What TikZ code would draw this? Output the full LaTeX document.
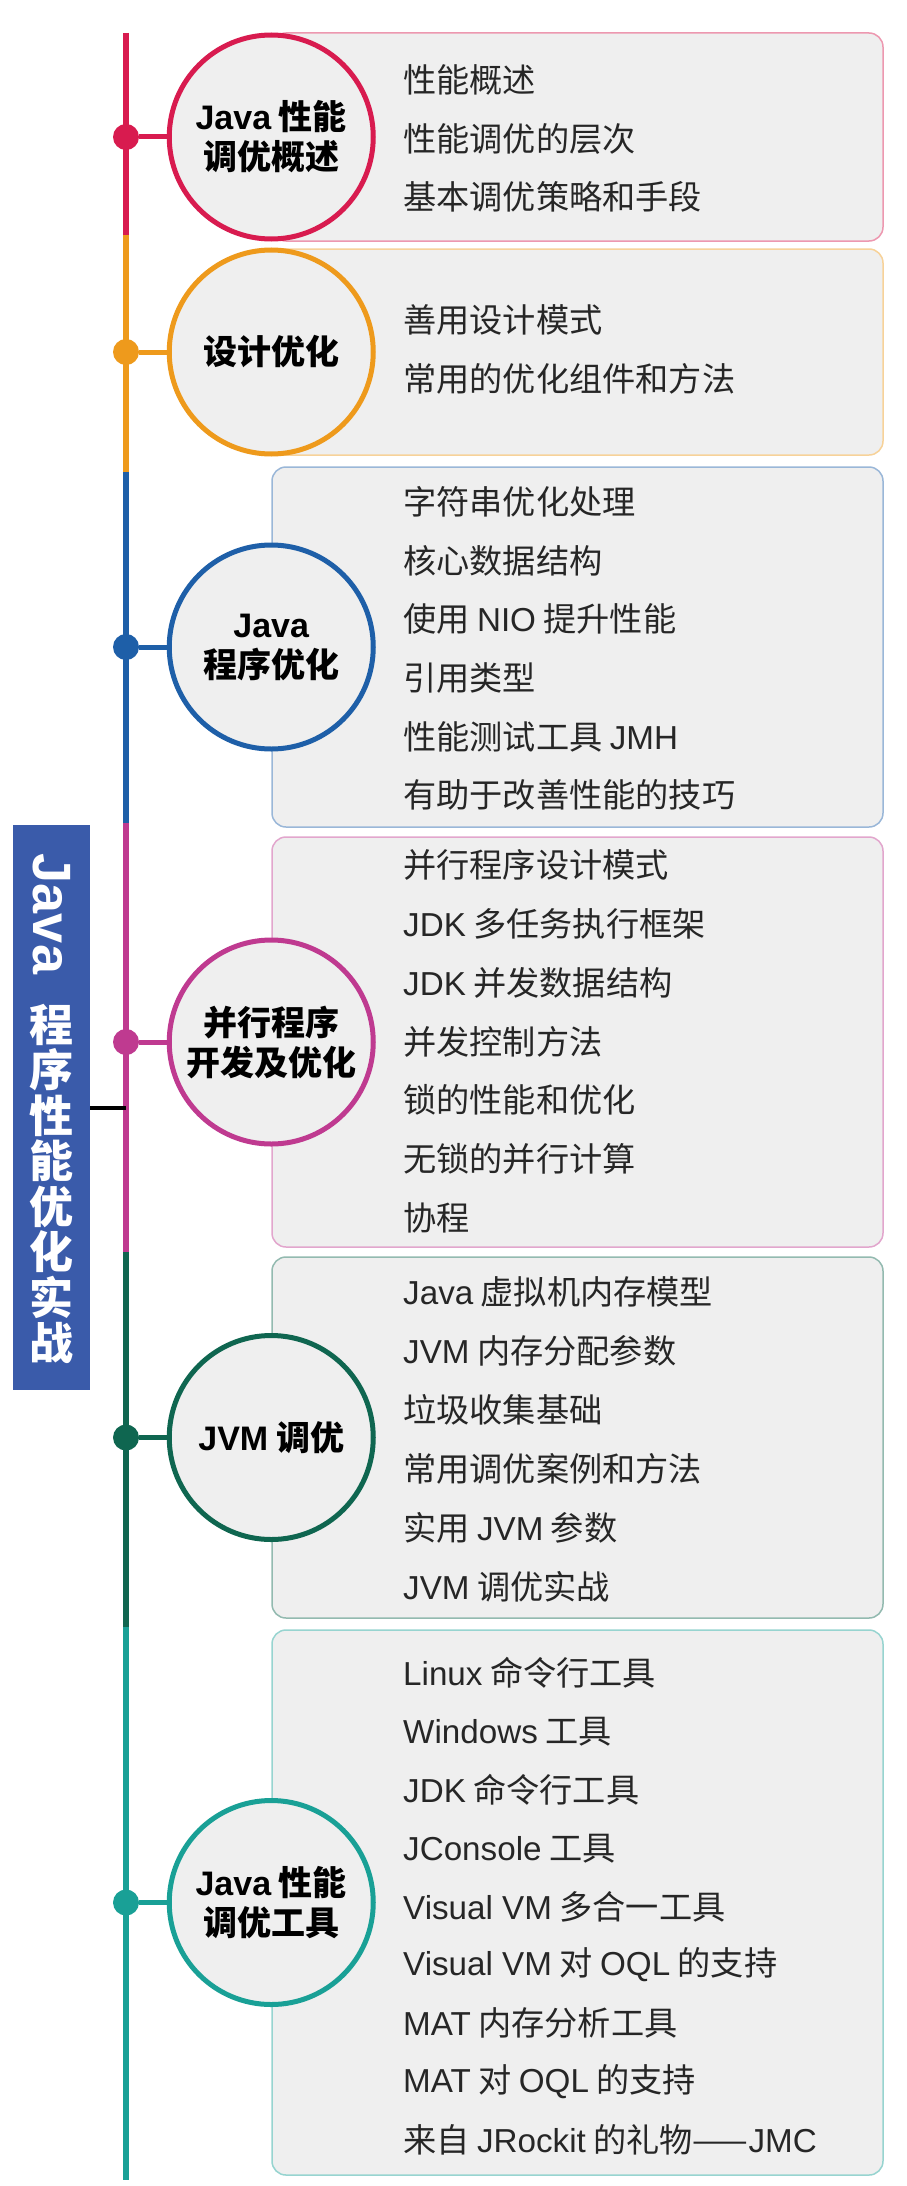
\documentclass[tikz,border=0pt]{standalone}
\usepackage{fontspec}
\setmainfont{Noto Sans CJK SC}
\newfontfamily\en{Liberation Sans}
\usetikzlibrary{positioning}
\definecolor{LineRed}{HTML}{D81B4F}
\definecolor{LineOrange}{HTML}{EE9A1C}
\definecolor{LineBlue}{HTML}{1E5FA8}
\definecolor{LineMagenta}{HTML}{BF3A90}
\definecolor{LineGreen}{HTML}{0F6650}
\definecolor{LineTeal}{HTML}{19A096}
\definecolor{TitleBlue}{HTML}{3A5BAA}
\definecolor{BoxGray}{HTML}{EFEFEF}
\definecolor{ItemGray}{HTML}{262626}

\begin{document}
\begin{tikzpicture}[x=1pt, y=-1pt,
  box/.style={draw=#1!45, fill=BoxGray, line width=1.5pt, rounded corners=14pt, minimum width=611pt, inner sep=0pt},
  topic/.style={circle, draw=#1, fill=BoxGray, line width=5pt, minimum size=204pt, inner sep=0pt, align=center, font=\fontsize{34}{40}\selectfont\bfseries},
  dot/.style={circle, fill=#1, minimum size=26pt, inner sep=0pt},
  branch/.style={#1, line width=5pt},
  spine/.style={#1, line width=5.5pt},
  item/.style={anchor=west, inner sep=0pt, font=\fontsize{33.2}{38}\selectfont, text=ItemGray},
]
\fill[white] (0,0) rectangle (906,2186);

\node[box=LineRed,     minimum height=208pt] (b1) at (577.5,137)    {};
\node[box=LineOrange,  minimum height=206pt] (b2) at (577.5,352)    {};
\node[box=LineBlue,    minimum height=360pt] (b3) at (577.5,647)    {};
\node[box=LineMagenta, minimum height=410pt] (b4) at (577.5,1042)   {};
\node[box=LineGreen,   minimum height=361pt] (b5) at (577.5,1437.5) {};
\node[box=LineTeal,    minimum height=545pt] (b6) at (577.5,1902.5) {};

\node[topic=LineRed]     (c1) at (b1.west) {{\en Java} 性能\\调优概述};
\node[topic=LineOrange]  (c2) at (b2.west) {设计优化};
\node[topic=LineBlue]    (c3) at (b3.west) {{\en Java}\\程序优化};
\node[topic=LineMagenta] (c4) at (b4.west) {并行程序\\开发及优化};
\node[topic=LineGreen]   (c5) at (b5.west) {{\en JVM} 调优};
\node[topic=LineTeal]    (c6) at (b6.west) {{\en Java} 性能\\调优工具};

\coordinate (s0) at (126,33);
\coordinate (s1) at (126,235);
\coordinate (s2) at (126,472);
\coordinate (s3) at (126,823);
\coordinate (s4) at (126,1252);
\coordinate (s5) at (126,1627);
\coordinate (s6) at (126,2180);
\draw[spine=LineRed]     (s0) -- (s1);
\draw[spine=LineOrange]  (s1) -- (s2);
\draw[spine=LineBlue]    (s2) -- (s3);
\draw[spine=LineMagenta] (s3) -- (s4);
\draw[spine=LineGreen]   (s4) -- (s5);
\draw[spine=LineTeal]    (s5) -- (s6);

\node[dot=LineRed]     (d1) at (s0 |- c1) {};
\node[dot=LineOrange]  (d2) at (s0 |- c2) {};
\node[dot=LineBlue]    (d3) at (s0 |- c3) {};
\node[dot=LineMagenta] (d4) at (s0 |- c4) {};
\node[dot=LineGreen]   (d5) at (s0 |- c5) {};
\node[dot=LineTeal]    (d6) at (s0 |- c6) {};
\draw[branch=LineRed]     (d1) -- (c1);
\draw[branch=LineOrange]  (d2) -- (c2);
\draw[branch=LineBlue]    (d3) -- (c3);
\draw[branch=LineMagenta] (d4) -- (c4);
\draw[branch=LineGreen]   (d5) -- (c5);
\draw[branch=LineTeal]    (d6) -- (c6);

\foreach \t [count=\i] in {性能概述, 性能调优的层次, 基本调优策略和手段}
  \node[item] (t1-\i) at (403,{80+58.6*(\i-1)}) {\t};
\foreach \t [count=\i] in {善用设计模式, 常用的优化组件和方法}
  \node[item] (t2-\i) at (403,{320+58.6*(\i-1)}) {\t};
\foreach \t [count=\i] in {字符串优化处理, 核心数据结构, 使用 {\en NIO} 提升性能, 引用类型, 性能测试工具 {\en JMH}, 有助于改善性能的技巧}
  \node[item] (t3-\i) at (403,{502+58.6*(\i-1)}) {\t};
\foreach \t [count=\i] in {并行程序设计模式, {\en JDK} 多任务执行框架, {\en JDK} 并发数据结构, 并发控制方法, 锁的性能和优化, 无锁的并行计算, 协程}
  \node[item] (t4-\i) at (403,{865+58.8*(\i-1)}) {\t};
\foreach \t [count=\i] in {{\en Java} 虚拟机内存模型, {\en JVM} 内存分配参数, 垃圾收集基础, 常用调优案例和方法, 实用 {\en JVM} 参数, {\en JVM} 调优实战}
  \node[item] (t5-\i) at (403,{1292+59*(\i-1)}) {\t};
\foreach \t [count=\i] in {{\en Linux} 命令行工具, {\en Windows} 工具, {\en JDK} 命令行工具, {\en JConsole} 工具, {\en Visual VM} 多合一工具, {\en Visual VM} 对 {\en OQL} 的支持, {\en MAT} 内存分析工具, {\en MAT} 对 {\en OQL} 的支持, 来自 {\en JRockit} 的礼物——{\en JMC}}
  \node[item] (t6-\i) at (403,{1673+58.4*(\i-1)}) {\t};

\node[fill=TitleBlue, minimum width=77pt, minimum height=565pt, inner sep=0pt] (title) at (51.5,1107.5) {};
\node[rotate=-90, text=white, inner sep=0pt, font=\fontsize{54}{54}\selectfont\bfseries\en] (titlea) at (51.5,914) {Java};
\node[text=white, inner sep=0pt, align=center, font=\fontsize{44}{45.5}\selectfont\bfseries] (titleb) at (51.5,1184) {程\\序\\性\\能\\优\\化\\实\\战};
\coordinate (hub) at (126,1107.5);
\draw[line width=4pt] (title) -- (hub);
\end{tikzpicture}
\end{document}
